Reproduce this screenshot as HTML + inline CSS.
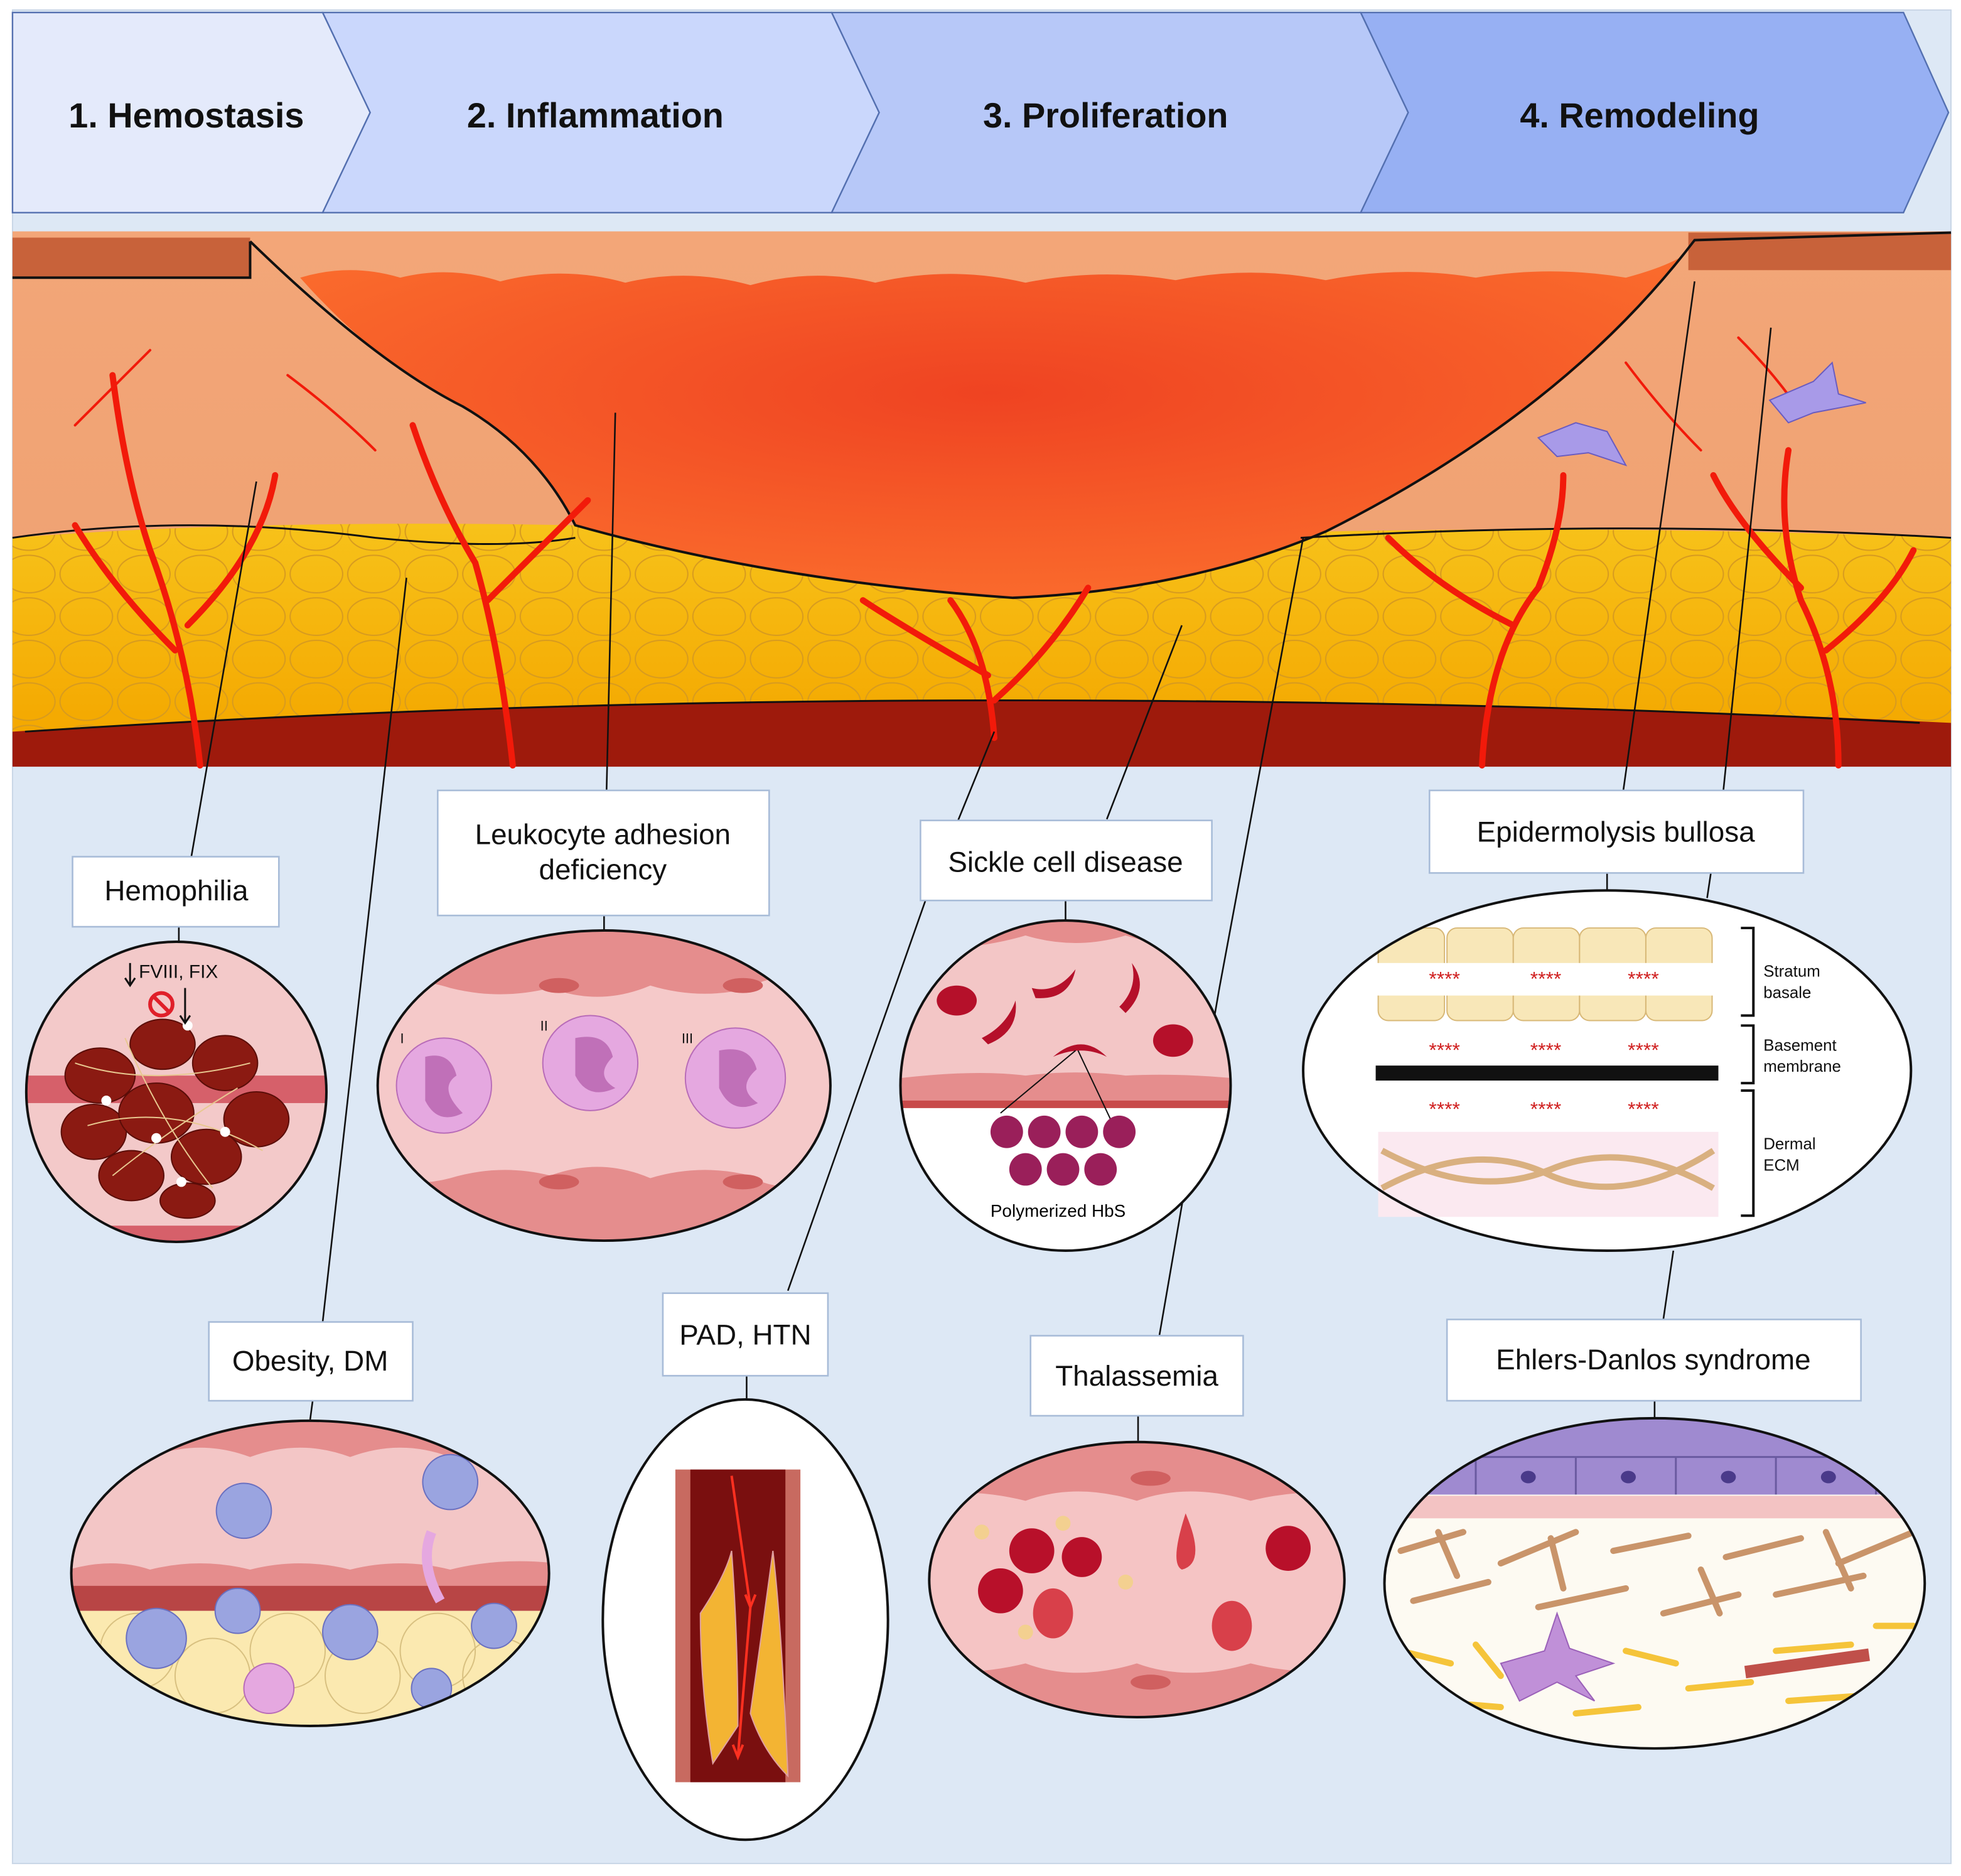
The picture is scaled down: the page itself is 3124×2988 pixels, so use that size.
<!DOCTYPE html>
<html><head><meta charset="utf-8"><style>
html,body{margin:0;padding:0;background:#fff}
svg{display:block}
text{font-family:"Liberation Sans",sans-serif}
</style></head><body>
<svg width="3124" height="2988" viewBox="0 0 1568 1500" preserveAspectRatio="none" xmlns="http://www.w3.org/2000/svg">
<defs>
<radialGradient id="wound" cx="50%" cy="40%" r="60%"><stop offset="0" stop-color="#ef4322"/><stop offset="1" stop-color="#fa6a2c"/></radialGradient>
<linearGradient id="derm" x1="0" y1="0" x2="0" y2="1"><stop offset="0" stop-color="#f3a678"/><stop offset="1" stop-color="#eea070"/></linearGradient>
<linearGradient id="fat" x1="0" y1="0" x2="0" y2="1"><stop offset="0" stop-color="#f7c21a"/><stop offset="1" stop-color="#f4a800"/></linearGradient>
<pattern id="fatc" width="46" height="34" patternUnits="userSpaceOnUse"><ellipse cx="23" cy="17" rx="21" ry="15" fill="none" stroke="#d69a20" stroke-width="1"/></pattern>
<clipPath id="c1"><ellipse cx="141" cy="873" rx="120" ry="120"/></clipPath>
<clipPath id="c2"><ellipse cx="483" cy="868" rx="181" ry="124"/></clipPath>
<clipPath id="c3"><ellipse cx="852" cy="868" rx="132" ry="132"/></clipPath>
<clipPath id="c4"><ellipse cx="1285" cy="856" rx="243" ry="144"/></clipPath>
<clipPath id="c5"><ellipse cx="248" cy="1258" rx="191" ry="122"/></clipPath>
<clipPath id="c6"><ellipse cx="596" cy="1295" rx="114" ry="176"/></clipPath>
<clipPath id="c7"><ellipse cx="909" cy="1263" rx="166" ry="110"/></clipPath>
<clipPath id="c8"><ellipse cx="1323" cy="1266" rx="216" ry="132"/></clipPath>
</defs>
<rect width="1568" height="1500" fill="#fff"/>
<rect x="10" y="8" width="1550" height="1482" fill="#dde8f5" stroke="#c9d6e6"/>
<polygon points="10,10 258,10 296,90 258,170 10,170" fill="#e4eafb" stroke="#5470b0" stroke-width="1.2"/>
<polygon points="258,10 665,10 703,90 665,170 258,170 296,90" fill="#cad7fc" stroke="#5470b0" stroke-width="1.2"/>
<polygon points="665,10 1088,10 1126,90 1088,170 665,170 703,90" fill="#b7c8f8" stroke="#5470b0" stroke-width="1.2"/>
<polygon points="1088,10 1522,10 1558,90 1522,170 1088,170 1126,90" fill="#97b0f3" stroke="#5470b0" stroke-width="1.2"/>
<g font-weight="bold" font-size="28" fill="#111" text-anchor="middle">
<text x="149" y="102">1. Hemostasis</text><text x="476" y="102">2. Inflammation</text>
<text x="884" y="102">3. Proliferation</text><text x="1311" y="102">4. Remodeling</text></g>
<rect x="10" y="185" width="1550" height="428" fill="url(#derm)"/>
<rect x="10" y="190" width="190" height="32" fill="#c8623a"/>
<rect x="1350" y="186" width="210" height="30" fill="#c8623a"/>
<path d="M10,430 Q200,415 460,420 Q620,465 810,478 Q950,472 1060,425 Q1300,420 1560,430 L1560,580 L10,585 Z" fill="url(#fat)"/>
<path d="M10,430 Q200,415 460,420 Q620,465 810,478 Q950,472 1060,425 Q1300,420 1560,430 L1560,580 L10,585 Z" fill="url(#fatc)"/>
<path d="M10,585 Q400,560 800,560 Q1200,560 1560,578 L1560,613 L10,613 Z" fill="#9e1a0c"/>
<path d="M240,222 Q280,210 320,222 Q360,212 400,225 Q450,212 500,226 Q550,214 600,228 Q650,214 700,226 Q760,212 820,226 Q880,214 940,224 Q1000,212 1060,224 Q1120,212 1180,222 Q1240,212 1300,222 Q1330,214 1345,205 Q1250,330 1060,425 Q950,472 810,478 Q620,465 460,420 Q430,360 370,325 Q300,290 240,222 Z" fill="url(#wound)"/>
<path d="M10,222 L200,222 L200,193 M200,193 Q300,290 370,325 Q430,360 460,420 Q620,465 810,478 Q950,472 1060,425 Q1250,330 1355,192 L1560,186" fill="none" stroke="#111" stroke-width="2"/>
<path d="M10,430 Q150,410 300,430 Q400,440 460,430 M1040,430 Q1300,415 1560,430" fill="none" stroke="#111" stroke-width="1.5"/>
<path d="M20,585 Q400,560 800,560 Q1200,560 1535,578" fill="none" stroke="#111" stroke-width="1.5"/>
<g stroke="#f21a0a" fill="none" stroke-linecap="round">
<path d="M160,612 Q150,520 120,440 Q100,380 90,300 M140,520 Q90,470 60,420 M150,500 Q210,440 220,380" stroke-width="5"/>
<path d="M410,612 Q400,520 380,450 Q350,400 330,340 M390,480 Q440,430 470,400" stroke-width="5"/>
<path d="M795,590 Q790,520 760,480 M795,560 Q840,520 870,470 M790,540 Q720,500 690,480" stroke-width="5"/>
<path d="M1185,612 Q1190,520 1230,470 Q1250,420 1250,380 M1210,500 Q1150,470 1110,430" stroke-width="5"/>
<path d="M1470,612 Q1470,540 1440,480 Q1420,420 1430,360 M1460,520 Q1510,480 1530,440 M1440,470 Q1390,420 1370,380" stroke-width="5"/>
<path d="M60,340 Q100,300 120,280 M230,300 Q270,330 300,360 M1300,290 Q1330,330 1360,360 M1390,270 Q1420,300 1440,330" stroke-width="2"/>
</g>
<polygon points="1230,350 1260,338 1285,345 1300,372 1270,362 1245,365" fill="#a89ae8" stroke="#6a5cc0"/>
<polygon points="1415,320 1450,305 1465,290 1470,315 1492,322 1450,330 1430,338" fill="#a89ae8" stroke="#6a5cc0"/>
<g stroke="#111" stroke-width="1.3" fill="none">
<path d="M205,385 L153,685 M143,741 L143,755"/>
<path d="M325,462 L258,1057 M250,1120 L248,1135"/>
<path d="M492,330 L485,632 M483,732 L483,745"/>
<path d="M795,585 L740,720 L630,1032 M597,1100 L597,1118"/>
<path d="M945,500 L885,655 M852,720 L852,738"/>
<path d="M1042,430 L975,790 L927,1068 M910,1132 L910,1152"/>
<path d="M1355,225 L1298,632 M1285,698 L1285,712"/>
<path d="M1416,262 L1378,632 M1368,698 L1365,718 M1338,1000 L1330,1055 M1323,1120 L1323,1135"/>
</g>
<g fill="#fff" stroke="#a8bcd8" stroke-width="1.3">
<rect x="58" y="685" width="165" height="56"/><rect x="350" y="632" width="265" height="100"/>
<rect x="736" y="656" width="233" height="64"/><rect x="1143" y="632" width="299" height="66"/>
<rect x="167" y="1057" width="163" height="63"/><rect x="530" y="1034" width="132" height="66"/>
<rect x="824" y="1068" width="170" height="64"/><rect x="1157" y="1055" width="331" height="65"/>
</g>
<g font-size="23" fill="#111" text-anchor="middle">
<text x="141" y="720">Hemophilia</text><text x="482" y="675">Leukocyte adhesion</text><text x="482" y="703">deficiency</text>
<text x="852" y="697">Sickle cell disease</text><text x="1292" y="673">Epidermolysis bullosa</text>
<text x="248" y="1096">Obesity, DM</text><text x="596" y="1075">PAD, HTN</text>
<text x="909" y="1108">Thalassemia</text><text x="1322" y="1095">Ehlers-Danlos syndrome</text></g>
<ellipse cx="141" cy="873" rx="120" ry="120" fill="#f3c9c9"/>
<g clip-path="url(#c1)">
<rect x="20" y="860" width="245" height="22" fill="#d6606a"/>
<rect x="20" y="980" width="245" height="20" fill="#d6606a"/>
<g fill="#8b1a12" stroke="#5a0d08"><ellipse cx="80" cy="860" rx="28" ry="22"/><ellipse cx="130" cy="835" rx="26" ry="20"/><ellipse cx="180" cy="850" rx="26" ry="22"/><ellipse cx="205" cy="895" rx="26" ry="22"/><ellipse cx="75" cy="905" rx="26" ry="22"/><ellipse cx="125" cy="890" rx="30" ry="24"/><ellipse cx="165" cy="925" rx="28" ry="22"/><ellipse cx="105" cy="940" rx="26" ry="20"/><ellipse cx="150" cy="960" rx="22" ry="14"/></g>
<g stroke="#e8c890" stroke-width="1" fill="none"><path d="M60,850 Q120,870 200,850 M70,900 Q140,880 210,920 M90,940 Q140,900 190,870 M100,830 Q130,900 170,950"/></g>
<g fill="#fff"><circle cx="85" cy="880" r="4"/><circle cx="125" cy="910" r="4"/><circle cx="180" cy="905" r="4"/><circle cx="150" cy="820" r="4"/><circle cx="145" cy="945" r="4"/></g>
</g>
<ellipse cx="141" cy="873" rx="120" ry="120" fill="none" stroke="#111" stroke-width="2"/>
<text x="111" y="782" font-size="15" fill="#111">FVIII, FIX</text>
<path d="M104,770 L104,788 M100,782 L104,788 L108,782 M148,790 L148,818 M144,812 L148,818 L152,812" stroke="#111" fill="none" stroke-width="1.5"/>
<circle cx="129" cy="803" r="9" fill="none" stroke="#e0202a" stroke-width="3"/><path d="M123,797 L135,809" stroke="#e0202a" stroke-width="3"/>
<ellipse cx="483" cy="868" rx="181" ry="124" fill="#f5c9c9"/>
<g clip-path="url(#c2)">
<path d="M300,740 L670,740 L670,785 Q620,775 600,790 Q560,800 520,788 Q480,805 440,790 Q400,800 360,790 Q330,780 300,790Z" fill="#e58d8d"/>
<path d="M300,995 L670,995 L670,945 Q620,955 600,940 Q560,930 520,942 Q480,925 440,940 Q400,930 360,942 Q330,950 300,940Z" fill="#e58d8d"/>
<g fill="#d06060"><ellipse cx="447" cy="788" rx="16" ry="6"/><ellipse cx="594" cy="788" rx="16" ry="6"/><ellipse cx="447" cy="945" rx="16" ry="6"/><ellipse cx="594" cy="945" rx="16" ry="6"/></g>
</g>
<ellipse cx="483" cy="868" rx="181" ry="124" fill="none" stroke="#111" stroke-width="2"/>
<g fill="#e5a8e0" stroke="#b86cb8"><circle cx="355" cy="868" r="38"/><circle cx="472" cy="850" r="38"/><circle cx="588" cy="862" r="40"/></g>
<g fill="#c070b8"><path d="M340,845 Q360,840 365,860 Q350,870 370,890 Q350,900 340,880Z"/><path d="M460,830 Q485,825 490,845 Q475,860 492,870 Q470,880 460,860Z"/><path d="M575,840 Q600,835 605,855 Q588,870 606,882 Q585,892 575,870Z"/></g>
<g font-size="11" fill="#111"><text x="320" y="834">I</text><text x="432" y="824">II</text><text x="545" y="834">III</text></g>
<ellipse cx="852" cy="868" rx="132" ry="132" fill="#fff"/>
<g clip-path="url(#c3)">
<path d="M720,735 L985,735 L985,880 L720,880Z" fill="#f3c6c6"/>
<path d="M720,735 L985,735 L985,765 Q940,760 900,748 Q860,760 820,748 Q780,760 720,760Z" fill="#e58d8d"/>
<path d="M720,880 L985,880 L985,862 Q940,858 900,860 Q860,855 820,860 Q780,855 720,862Z" fill="#e58d8d"/>
<rect x="720" y="880" width="265" height="6" fill="#c84a4a"/>
</g>
<ellipse cx="852" cy="868" rx="132" ry="132" fill="none" stroke="#111" stroke-width="2"/>
<g fill="#b5102a"><ellipse cx="765" cy="800" rx="16" ry="12"/><ellipse cx="938" cy="832" rx="16" ry="13"/><path d="M785,830 Q805,820 812,800 Q815,825 790,835Z"/><path d="M825,790 Q845,795 860,775 Q855,800 828,798Z"/><path d="M895,805 Q910,790 905,770 Q920,790 900,810Z"/><path d="M842,845 Q865,825 885,845 Q865,835 842,845Z"/></g>
<path d="M860,840 L800,890 M862,840 L888,895" stroke="#111" stroke-width="1"/>
<g fill="#9a1f5a"><circle cx="805" cy="905" r="13"/><circle cx="835" cy="905" r="13"/><circle cx="865" cy="905" r="13"/><circle cx="895" cy="905" r="13"/><circle cx="820" cy="935" r="13"/><circle cx="850" cy="935" r="13"/><circle cx="880" cy="935" r="13"/></g>
<text x="846" y="973" font-size="14" text-anchor="middle">Polymerized HbS</text>
<ellipse cx="1285" cy="856" rx="243" ry="144" fill="#fff"/>
<g clip-path="url(#c4)">
<g fill="#f8e7b8" stroke="#d8b877"><rect x="1102" y="742" width="53" height="74" rx="8"/><rect x="1157" y="742" width="53" height="74" rx="8"/><rect x="1210" y="742" width="53" height="74" rx="8"/><rect x="1263" y="742" width="53" height="74" rx="8"/><rect x="1316" y="742" width="53" height="74" rx="8"/></g>
<rect x="1100" y="770" width="275" height="26" fill="#fff"/>
</g>
<rect x="1100" y="852" width="274" height="12" fill="#111"/>
<rect x="1102" y="905" width="272" height="68" fill="#fbe9f0"/>
<path d="M1105,920 Q1180,960 1240,935 Q1300,910 1370,950 M1105,950 Q1180,910 1240,940 Q1300,965 1370,920" stroke="#d9b080" stroke-width="5" fill="none"/>
<ellipse cx="1285" cy="856" rx="243" ry="144" fill="none" stroke="#111" stroke-width="2"/>
<g fill="#d02020" font-size="16" text-anchor="middle"><text x="1155" y="788">****</text><text x="1236" y="788">****</text><text x="1314" y="788">****</text><text x="1155" y="845">****</text><text x="1236" y="845">****</text><text x="1314" y="845">****</text><text x="1155" y="892">****</text><text x="1236" y="892">****</text><text x="1314" y="892">****</text></g>
<g stroke="#111" fill="none" stroke-width="2"><path d="M1392,742 L1402,742 L1402,812 L1392,812 M1392,820 L1402,820 L1402,866 L1392,866 M1392,872 L1402,872 L1402,972 L1392,972"/></g>
<g font-size="13" fill="#111"><text x="1410" y="781">Stratum</text><text x="1410" y="798">basale</text><text x="1410" y="840">Basement</text><text x="1410" y="857">membrane</text><text x="1410" y="919">Dermal</text><text x="1410" y="936">ECM</text></g>
<ellipse cx="248" cy="1258" rx="191" ry="122" fill="#f3c6c6"/>
<g clip-path="url(#c5)">
<path d="M55,1130 L445,1130 L445,1160 Q400,1150 360,1165 Q320,1150 280,1165 Q240,1150 200,1165 Q160,1150 120,1165 Q90,1150 55,1165Z" fill="#e58d8d"/>
<path d="M55,1270 L445,1270 L445,1250 Q400,1245 360,1255 Q320,1245 280,1255 Q240,1245 200,1255 Q160,1245 120,1255 Q90,1245 55,1255Z" fill="#e58d8d"/>
<rect x="55" y="1268" width="390" height="20" fill="#b84545"/>
<rect x="55" y="1288" width="390" height="100" fill="#fbe9b0"/>
<g fill="none" stroke="#d8c080"><circle cx="110" cy="1320" r="30"/><circle cx="170" cy="1340" r="30"/><circle cx="230" cy="1320" r="30"/><circle cx="290" cy="1340" r="30"/><circle cx="350" cy="1320" r="30"/><circle cx="400" cy="1340" r="30"/></g>
<g fill="#9aa4e0" stroke="#6a70c0"><circle cx="195" cy="1208" r="22"/><circle cx="360" cy="1185" r="22"/><circle cx="125" cy="1310" r="24"/><circle cx="280" cy="1305" r="22"/><circle cx="190" cy="1288" r="18"/><circle cx="395" cy="1300" r="18"/><circle cx="345" cy="1350" r="16"/></g>
<circle cx="215" cy="1350" r="20" fill="#e5a8e0" stroke="#b86cb8"/>
<path d="M345,1225 Q335,1250 352,1280" stroke="#e5a8e0" stroke-width="8" fill="none"/>
</g>
<ellipse cx="248" cy="1258" rx="191" ry="122" fill="none" stroke="#111" stroke-width="2"/>
<ellipse cx="596" cy="1295" rx="114" ry="176" fill="#fff"/>
<rect x="540" y="1175" width="100" height="250" fill="#c86a60"/><rect x="552" y="1175" width="76" height="250" fill="#7a0f0f"/>
<path d="M560,1290 Q580,1260 585,1240 Q590,1310 590,1380 L570,1410 Q560,1350 560,1290Z M618,1240 Q625,1300 630,1420 Q610,1400 600,1370 Q610,1300 618,1240Z" fill="#f3b433" stroke="#e0a0a0"/>
<path d="M585,1180 L600,1285 L590,1405" stroke="#ff3020" stroke-width="2" fill="none"/>
<path d="M596,1275 L600,1285 L604,1275 M586,1395 L590,1405 L594,1395" stroke="#ff3020" stroke-width="2" fill="none"/>
<ellipse cx="596" cy="1295" rx="114" ry="176" fill="none" stroke="#111" stroke-width="2"/>
<ellipse cx="909" cy="1263" rx="166" ry="110" fill="#f5c4c4"/>
<g clip-path="url(#c7)">
<path d="M740,1150 L1080,1150 L1080,1195 Q1040,1190 1000,1200 Q950,1185 909,1200 Q860,1185 820,1200 Q780,1190 740,1195Z" fill="#e58d8d"/>
<path d="M740,1380 L1080,1380 L1080,1335 Q1040,1340 1000,1330 Q950,1345 909,1330 Q860,1345 820,1330 Q780,1340 740,1335Z" fill="#e58d8d"/>
<g fill="#d06060"><ellipse cx="920" cy="1182" rx="16" ry="6"/><ellipse cx="920" cy="1345" rx="16" ry="6"/></g>
</g>
<ellipse cx="909" cy="1263" rx="166" ry="110" fill="none" stroke="#111" stroke-width="2"/>
<g fill="#b8102a"><circle cx="825" cy="1240" r="18"/><circle cx="865" cy="1245" r="16"/><circle cx="800" cy="1272" r="18"/><circle cx="1030" cy="1238" r="18"/></g>
<g fill="#d8404a"><ellipse cx="842" cy="1290" rx="16" ry="20"/><ellipse cx="985" cy="1300" rx="16" ry="20"/><path d="M948,1210 Q935,1250 945,1255 Q965,1250 948,1210Z"/></g>
<g fill="#f3d090"><circle cx="785" cy="1225" r="6"/><circle cx="820" cy="1305" r="6"/><circle cx="900" cy="1265" r="6"/><circle cx="850" cy="1218" r="6"/></g>
<ellipse cx="1323" cy="1266" rx="216" ry="132" fill="#fdfaf2"/>
<g clip-path="url(#c8)">
<path d="M1105,1130 L1540,1130 L1540,1195 L1105,1195Z" fill="#9f8ad0"/>
<rect x="1105" y="1196" width="435" height="18" fill="#f3c3c3"/>
<g stroke="#6a5aa0" stroke-width="1.5" fill="none"><path d="M1180,1165 L1180,1195 M1260,1165 L1260,1195 M1340,1165 L1340,1195 M1420,1165 L1420,1195 M1500,1165 L1500,1195 M1105,1165 L1540,1165"/></g>
<g fill="#4a3a8a"><ellipse cx="1222" cy="1181" rx="6" ry="5"/><ellipse cx="1302" cy="1181" rx="6" ry="5"/><ellipse cx="1382" cy="1181" rx="6" ry="5"/><ellipse cx="1462" cy="1181" rx="6" ry="5"/></g>
<g stroke="#c9946a" stroke-width="5" fill="none" stroke-linecap="round"><path d="M1120,1240 L1170,1225 M1200,1250 L1260,1225 M1290,1240 L1350,1228 M1380,1245 L1440,1230 M1470,1250 L1530,1225 M1130,1280 L1190,1265 M1230,1285 L1300,1270 M1330,1290 L1390,1275 M1420,1275 L1490,1260 M1150,1225 L1165,1260 M1240,1230 L1250,1270 M1360,1255 L1375,1290 M1460,1225 L1480,1270"/></g>
<g stroke="#f5c43a" stroke-width="5" fill="none" stroke-linecap="round"><path d="M1120,1320 L1160,1330 M1180,1315 L1200,1340 M1300,1320 L1340,1330 M1420,1320 L1480,1315 M1350,1350 L1400,1345 M1140,1360 L1200,1365 M1260,1370 L1310,1365 M1430,1360 L1500,1355 M1500,1300 L1530,1300"/></g>
</g>
<polygon points="1200,1330 1235,1320 1245,1290 1255,1318 1290,1330 1260,1340 1275,1360 1245,1345 1215,1360" fill="#c090d8" stroke="#9a60b8"/>
<rect x="1395" y="1325" width="100" height="10" fill="#c0504a" transform="rotate(-8 1445 1330)"/>
<ellipse cx="1323" cy="1266" rx="216" ry="132" fill="none" stroke="#111" stroke-width="2"/>
</svg>
</body></html>
